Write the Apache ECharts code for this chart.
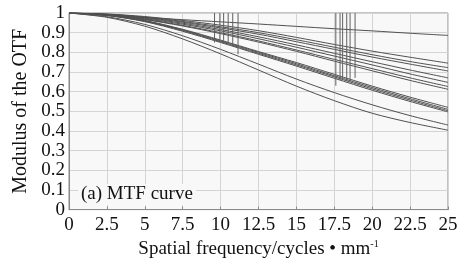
<!DOCTYPE html>
<html>
<head>
<meta charset="utf-8">
<script src="https://cdn.jsdelivr.net/npm/echarts@6/dist/echarts.min.js"></script>
<style>
  html, body { margin: 0; padding: 0; background: #fff; }
  #main { width: 465px; height: 264px; }
</style>
</head>
<body>
<div id="main"></div>
<script>
// spatial frequency samples (cycles/mm)
var freq = [0, 2.5, 5, 7.5, 10, 12.5, 15, 17.5, 20, 22.5, 25];

// MTF curves
var curveTop = [1, 0.989, 0.977, 0.966, 0.955, 0.944, 0.932, 0.92, 0.909, 0.897, 0.886];
var curveU1 = [1, 0.995, 0.982, 0.962, 0.938, 0.91, 0.876, 0.84, 0.806, 0.775, 0.745];
var curveU2 = [1, 0.994, 0.979, 0.957, 0.93, 0.9, 0.864, 0.826, 0.788, 0.753, 0.722];
var curveU3 = [1, 0.993, 0.977, 0.953, 0.924, 0.892, 0.854, 0.815, 0.776, 0.74, 0.705];
var curveU4 = [1, 0.992, 0.974, 0.948, 0.916, 0.879, 0.838, 0.795, 0.752, 0.71, 0.67];
var curveU5 = [1, 0.991, 0.971, 0.943, 0.909, 0.869, 0.826, 0.781, 0.736, 0.69, 0.647];
var curveU6 = [1, 0.99, 0.968, 0.937, 0.9, 0.858, 0.812, 0.764, 0.717, 0.67, 0.626];
var curveU7 = [1, 0.989, 0.966, 0.934, 0.895, 0.852, 0.805, 0.755, 0.706, 0.657, 0.612];
var curveC1 = [1, 0.99, 0.962, 0.917, 0.862, 0.804, 0.748, 0.688, 0.628, 0.572, 0.52];
var curveC2 = [1, 0.989, 0.96, 0.914, 0.858, 0.8, 0.742, 0.681, 0.621, 0.564, 0.51];
var curveC3 = [1, 0.988, 0.958, 0.911, 0.854, 0.795, 0.736, 0.675, 0.614, 0.557, 0.503];
var curveC4 = [1, 0.987, 0.956, 0.907, 0.85, 0.79, 0.73, 0.668, 0.607, 0.55, 0.497];
var curveL2 = [1, 0.981, 0.942, 0.884, 0.815, 0.74, 0.664, 0.595, 0.533, 0.478, 0.43];
var curveL1 = [1, 0.978, 0.933, 0.868, 0.792, 0.71, 0.628, 0.554, 0.49, 0.443, 0.404];

// vertical marker lines dropped from the top of the plot
var markX = [9.6, 9.95, 10.2, 10.5, 10.8, 11.15, 17.6, 17.88, 18.05, 18.32, 18.54, 18.87];
var markEnd = [0.85, 0.86, 0.855, 0.85, 0.845, 0.79, 0.63, 0.66, 0.66, 0.655, 0.655, 0.67];

var curves = [curveTop, curveU1, curveU2, curveU3, curveU4, curveU5, curveU6, curveU7,
  curveC1, curveC2, curveC3, curveC4, curveL2, curveL1];

var serif = "'Liberation Serif', 'Times New Roman', serif";
var lineColor = "#505050";

var series = [];
curves.forEach(function (c) {
  series.push({
    type: "line",
    data: freq.map(function (f, i) { return [f, c[i]]; }),
    smooth: 0.3,
    symbol: "none",
    lineStyle: { color: lineColor, width: 1 },
    silent: true,
  });
});
markX.forEach(function (x, i) {
  series.push({
    type: "line",
    data: [[x, 1], [x, markEnd[i]]],
    symbol: "none",
    lineStyle: { color: "#606060", width: 1 },
    silent: true,
  });
});

var chartDom = document.getElementById("main");
var myChart = echarts.init(chartDom);
var option = {
  animation: false,
  title: {
    text: "(a) MTF curve",
    left: 78,
    top: 184,
    padding: [1, 3],
    backgroundColor: "#f8f8f8",
    textStyle: { fontFamily: serif, fontSize: 19, fontWeight: "normal", color: "#111" },
  },
  grid: {
    left: 69,
    right: 17,
    top: 13,
    bottom: 51,
    show: true,
    backgroundColor: "#f8f8f8",
    borderColor: "#8a8a8a",
    borderWidth: 1,
  },
  xAxis: {
    type: "value",
    min: 0,
    max: 25,
    interval: 2.5,
    name: "Spatial frequency/cycles • mm{sup|-1}",
    nameLocation: "middle",
    nameGap: 27,
    nameTextStyle: {
      fontFamily: serif,
      fontSize: 19,
      color: "#111",
      rich: { sup: { fontFamily: serif, fontSize: 10, verticalAlign: "top", padding: [0, 0, 10, 0], color: "#111" } },
    },
    axisLine: { lineStyle: { color: "#8a8a8a" } },
    axisTick: { inside: true, length: 3, lineStyle: { color: "#888" } },
    axisLabel: { fontFamily: serif, fontSize: 19, color: "#111", margin: 6 },
    splitLine: { lineStyle: { color: "#d4d4d4", width: 1 } },
  },
  yAxis: {
    type: "value",
    min: 0,
    max: 1,
    interval: 0.1,
    name: "Modulus of the OTF",
    nameLocation: "middle",
    nameGap: 38,
    nameTextStyle: { fontFamily: serif, fontSize: 20, color: "#111" },
    axisLine: { show: true, lineStyle: { color: "#8a8a8a" } },
    axisTick: { show: false },
    axisLabel: { fontFamily: serif, fontSize: 19, color: "#111", margin: 4 },
    splitLine: { lineStyle: { color: "#d4d4d4", width: 1 } },
  },
  series: series,
};
option && myChart.setOption(option);
</script>
</body>
</html>
